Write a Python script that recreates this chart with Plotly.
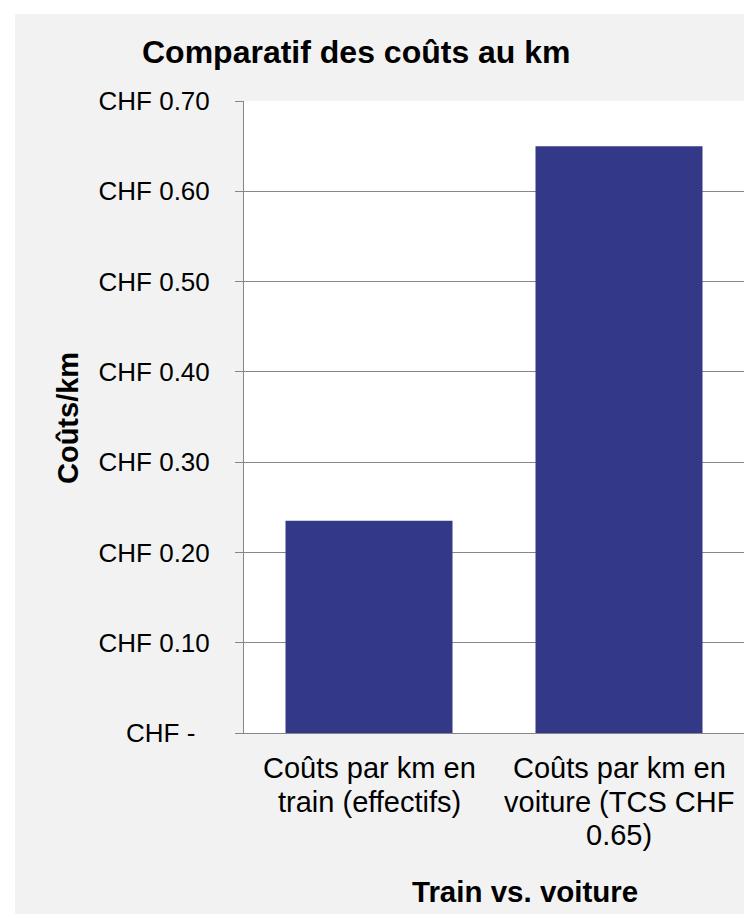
import plotly.graph_objects as go

categories = ["Coûts par km en<br>train (effectifs)", "Coûts par km en<br>voiture (TCS CHF<br>0.65)"]
values = [0.235, 0.65]
tick_vals = [0, 0.1, 0.2, 0.3, 0.4, 0.5, 0.6, 0.7]
tick_text = ["CHF -&nbsp;&nbsp;", "CHF 0.10", "CHF 0.20", "CHF 0.30", "CHF 0.40", "CHF 0.50", "CHF 0.60", "CHF 0.70"]
title_text = "Comparatif des coûts au km"
x_title = "Train vs. voiture"
y_title = "Coûts/km"

W, H = 750, 914
L, R, T, B = 244, 6, 101, 181
pw, ph = W - L - R, H - T - B
FONT = "Liberation Sans, Arial, sans-serif"
GRID = "#868686"

def px_x(x):
    return (x - L) / pw

def px_y(y):
    return (H - B - y) / ph

fig = go.Figure(go.Bar(x=categories, y=values, marker=dict(color="#333987", line=dict(width=0))))

# category labels drawn line by line at the category positions (tighter line spacing)
cat_annotations = []
first_line_y, line_step = 768, 33.5
for cat in categories:
    for i, line in enumerate(cat.split("<br>")):
        cat_annotations.append(dict(text=line, xref="x", yref="paper", x=cat, y=px_y(first_line_y + i * line_step),
                                    xanchor="center", yanchor="middle", showarrow=False, font=dict(size=29)))

fig.update_layout(
    width=W, height=H,
    margin=dict(l=L, r=R, t=T, b=B, pad=0),
    paper_bgcolor="#f2f2f2",
    plot_bgcolor="#ffffff",
    bargap=0.332,
    showlegend=False,
    font=dict(family=FONT, size=26, color="#000000"),
    xaxis=dict(showline=True, linecolor=GRID, linewidth=1, ticks="", showgrid=False,
               showticklabels=False, fixedrange=True),
    yaxis=dict(range=[0, 0.7], tickvals=tick_vals, ticktext=tick_text, showline=True,
               linecolor=GRID, linewidth=1, ticks="outside", ticklen=8, tickcolor=GRID,
               showgrid=True, gridcolor=GRID, gridwidth=1, zeroline=False,
               tickfont=dict(size=26), ticklabelstandoff=20, fixedrange=True),
    shapes=[
        dict(type="rect", xref="paper", yref="paper", x0=px_x(0), x1=px_x(W), y0=px_y(14), y1=px_y(0),
             fillcolor="#ffffff", line=dict(width=0), layer="below"),
        dict(type="rect", xref="paper", yref="paper", x0=px_x(0), x1=px_x(15), y0=px_y(H), y1=px_y(0),
             fillcolor="#ffffff", line=dict(width=0), layer="below"),
        dict(type="rect", xref="paper", yref="paper", x0=px_x(744), x1=px_x(W), y0=px_y(H), y1=px_y(0),
             fillcolor="#ffffff", line=dict(width=0), layer="below"),
    ],
    annotations=[
        dict(text="<b>" + title_text + "</b>", xref="paper", yref="paper", x=px_x(356), y=px_y(52),
             xanchor="center", yanchor="middle", showarrow=False, font=dict(size=32)),
        dict(text="<b>" + x_title + "</b>", xref="paper", yref="paper", x=px_x(524.5), y=px_y(891),
             xanchor="center", yanchor="middle", showarrow=False, font=dict(size=29.5)),
        dict(text="<b>" + y_title + "</b>", xref="paper", yref="paper", x=px_x(68), y=px_y(418),
             xanchor="center", yanchor="middle", showarrow=False, textangle=-90, font=dict(size=29)),
    ] + cat_annotations,
)

fig.write_html("out.html", config={"displayModeBar": False})

with open("out.html", "r", encoding="utf-8") as f:
    html = f.read()
html = html.replace("<head>", "<head><style>html,body{margin:0;padding:0;overflow:hidden;}</style>", 1)
with open("out.html", "w", encoding="utf-8") as f:
    f.write(html)
